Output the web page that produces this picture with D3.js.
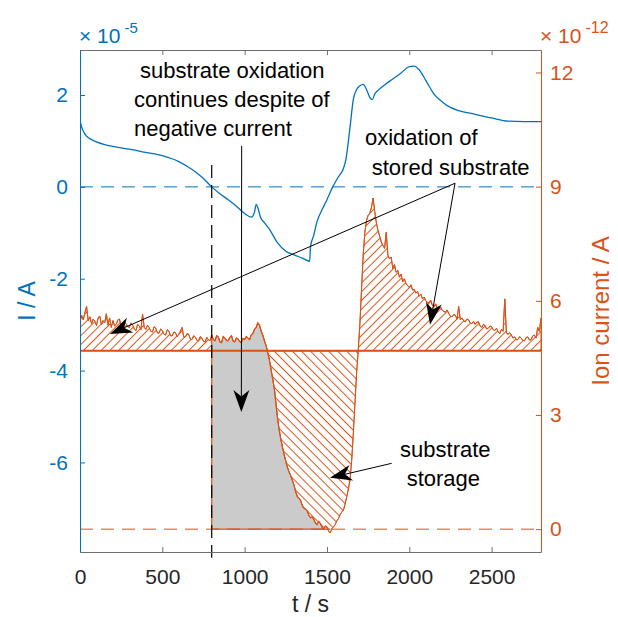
<!DOCTYPE html>
<html><head><meta charset="utf-8">
<script src="https://cdn.jsdelivr.net/npm/d3@7"></script>
<style>
body{margin:0;background:#fff}
svg{display:block}
text{font-family:"Liberation Sans",Arial,Helvetica,sans-serif}
</style>
</head><body>
<svg id="c" width="618" height="617"></svg>
<script>
// ---------- data ----------
// electrode current I (x 10^-5 A)
const currentTime = [0,10,30,60,100,150,200,300,400,500,600,650,700,750,800,850,900,950,1000,1040,1060,1070,1080,1095,1120,1150,1200,1250,1300,1350,1395,1400,1420,1440,1470,1500,1535,1570,1600,1615,1640,1660,1680,1700,1720,1740,1760,1775,1790,1810,1850,1900,1950,2000,2030,2060,2100,2150,2200,2250,2300,2400,2500,2600,2700,2800];
const currentValue = [1.45,1.30,1.15,1.05,0.98,0.92,0.88,0.82,0.75,0.68,0.55,0.45,0.33,0.18,0.00,-0.15,-0.28,-0.42,-0.58,-0.66,-0.55,-0.38,-0.45,-0.65,-0.78,-0.92,-1.22,-1.40,-1.48,-1.55,-1.62,-1.30,-1.05,-0.75,-0.50,-0.28,0.00,0.22,0.40,0.60,1.30,1.90,2.12,2.20,2.23,2.12,1.95,1.90,2.02,2.10,2.22,2.35,2.48,2.62,2.63,2.55,2.32,2.02,1.85,1.73,1.66,1.58,1.50,1.43,1.42,1.42];

// ion current (x 10^-12 A), sampled every 10 s from 0 to 2800 s
const ionStep = 10;
const ionValue = [
5.45,5.62,5.50,5.70,5.85,5.48,5.58,5.40,5.52,5.46,
5.35,5.55,5.60,5.38,5.48,5.42,5.66,5.36,5.55,5.30,
5.48,5.34,5.38,5.50,5.52,5.30,5.28,5.44,5.40,5.32,
5.30,5.42,5.36,5.26,5.22,5.38,5.34,5.24,5.65,5.30,
5.25,5.36,5.30,5.20,5.18,5.32,5.28,5.16,5.15,5.26,
5.22,5.12,5.10,5.24,5.20,5.08,5.08,5.18,5.16,5.06,
5.12,5.20,5.30,5.05,5.05,5.14,5.12,5.00,4.98,5.08,
5.05,4.96,4.95,5.06,5.02,4.94,4.92,5.04,4.98,4.95,
5.10,4.98,4.95,5.08,5.05,4.92,4.90,5.06,5.02,4.96,
4.95,5.04,5.08,4.94,4.92,5.02,5.00,4.93,4.90,5.01,
4.98,5.06,5.02,4.98,5.10,5.14,5.25,5.30,5.42,5.36,
5.20,5.10,4.95,4.82,4.65,4.45,4.20,3.95,3.70,3.30,
2.90,2.60,2.35,2.15,1.95,1.78,1.62,1.50,1.40,1.28,
1.15,0.98,0.85,0.82,0.75,0.62,0.55,0.52,0.48,0.36,
0.30,0.32,0.25,0.16,0.12,0.20,0.15,0.05,0.00,0.08,
0.05,-0.05,-0.10,0.02,0.06,0.12,0.22,0.28,0.38,0.45,
0.50,0.65,0.85,1.05,1.30,1.80,2.50,3.30,4.10,4.70,
5.40,6.30,7.20,7.80,8.10,8.25,8.30,8.45,8.70,8.35,
8.05,7.85,7.70,7.55,7.45,7.38,7.80,7.20,7.10,7.15,
6.85,6.95,6.75,6.80,6.62,6.70,6.50,6.58,6.45,6.40,
6.35,6.42,6.28,6.30,6.20,6.25,6.12,6.18,6.05,6.10,
6.00,5.96,5.95,6.02,5.88,5.85,5.92,5.80,5.78,5.84,
5.75,5.72,5.70,5.76,5.66,5.60,5.58,5.64,5.62,5.52,
5.85,5.50,5.55,5.48,5.45,5.52,5.50,5.42,5.40,5.46,
5.38,5.44,5.45,5.34,5.30,5.38,5.35,5.26,5.28,5.34,
5.32,5.24,5.22,5.28,5.18,5.14,5.25,5.20,6.05,5.15,
5.12,5.16,5.10,5.02,5.05,4.98,4.98,5.06,5.02,4.96,
4.95,5.04,5.05,4.97,4.98,5.08,5.10,5.02,5.30,5.20,
5.55];

const ionBaseline = 4.69;      // background ion current level
const storageStart = 800;      // start of the grey region (s)
const storageEnd = 1520;       // end of grey region (s)

const xTicks = [0,500,1000,1500,2000,2500];
const leftTicks = [-6,-4,-2,0,2];
const rightTicks = [0,3,6,9,12];

// annotations in data coordinates (t, ion current)
const annoTexts = [
  {t:364, v:11.85, s:"substrate oxidation"},
  {t:328, v:11.09, s:"continues despite of"},
  {t:328, v:10.33, s:"negative current"},
  {t:1731, v:10.09, s:"oxidation of"},
  {t:1772, v:9.31, s:"stored substrate"},
  {t:1944, v:1.90, s:"substrate"},
  {t:1984, v:1.14, s:"storage"}
];
const annoArrows = [
  {from:[982,10.07], to:[980,3.08]},
  {from:[2278,9.09], to:[182,5.13]},
  {from:[2278,9.09], to:[2126,5.37]},
  {from:[1893,1.73], to:[1518,1.35]}
];

// ---------- setup ----------
const blue = "#0072BD", orange = "#D95319", grey = "#262626";
const m = {l:80, r:541, t:50, b:552};
const svg = d3.select("#c");
const x = d3.scaleLinear().domain([0,2800]).range([m.l,m.r]);
const yL = d3.scaleLinear().domain([-7.95,2.98]).range([m.b,m.t]);
const yR = d3.scaleLinear().domain([-0.6,12.59]).range([m.b,m.t]);

const defs = svg.append("defs");
defs.append("clipPath").attr("id","plot").append("rect")
  .attr("x",m.l).attr("y",m.t).attr("width",m.r-m.l).attr("height",m.b-m.t);
function hatch(id, angle, gap){
  const p = defs.append("pattern").attr("id",id).attr("patternUnits","userSpaceOnUse")
    .attr("width",gap).attr("height",gap).attr("patternTransform",`rotate(${angle})`);
  p.append("line").attr("x1",gap/2).attr("x2",gap/2).attr("y1",-1).attr("y2",gap+1)
    .attr("stroke",orange).attr("stroke-width",1);
}
hatch("hatchUp", 45, 6.2);
hatch("hatchDown", -45, 6.4);

const ion = ionValue.map((v,i)=>({t:i*ionStep, v}));
const cur = currentTime.map((t,i)=>({t, v:currentValue[i]}));

const g = svg.append("g").attr("clip-path","url(#plot)");

// hatched area above baseline
g.append("path").datum(ion)
  .attr("d", d3.area().x(d=>x(d.t)).y0(yR(ionBaseline)).y1(d=>yR(Math.max(d.v,ionBaseline))))
  .attr("fill","url(#hatchUp)").attr("stroke",orange).attr("stroke-width",1);

// hatched area below baseline (storage)
g.append("path").datum(ion.filter(d=>d.t>=1130 && d.t<=1710))
  .attr("d", d3.area().x(d=>x(d.t)).y0(yR(ionBaseline)).y1(d=>yR(Math.min(d.v,ionBaseline))))
  .attr("fill","url(#hatchDown)").attr("stroke",orange).attr("stroke-width",1);

// grey region
g.append("path").datum(ion.filter(d=>d.t>=storageStart && d.t<=storageEnd))
  .attr("d", d3.area().x(d=>x(d.t)).y0(yR(0)).y1(d=>yR(Math.max(d.v,0))))
  .attr("fill","#cbcbcb").attr("stroke",orange).attr("stroke-width",1.2);

// baseline and zero line
g.append("line").attr("x1",x(0)).attr("x2",x(2800)).attr("y1",yR(ionBaseline)).attr("y2",yR(ionBaseline))
  .attr("stroke",orange).attr("stroke-width",2);
g.append("line").attr("x1",x(0)).attr("x2",x(2800)).attr("y1",yR(0)).attr("y2",yR(0))
  .attr("stroke",orange).attr("stroke-width",1).attr("stroke-dasharray","13,8");

// ion current curve
g.append("path").datum(ion)
  .attr("d", d3.line().x(d=>x(d.t)).y(d=>yR(d.v)))
  .attr("fill","none").attr("stroke",orange).attr("stroke-width",1);

// blue zero line and current curve
g.append("line").attr("x1",x(0)).attr("x2",x(2800)).attr("y1",yL(0)).attr("y2",yL(0))
  .attr("stroke",blue).attr("stroke-width",1).attr("stroke-dasharray","13,8");
g.append("path").datum(cur)
  .attr("d", d3.line().curve(d3.curveMonotoneX).x(d=>x(d.t)).y(d=>yL(d.v)))
  .attr("fill","none").attr("stroke",blue).attr("stroke-width",1.3);

// black dashed vertical at t=800
svg.append("line").attr("x1",x(storageStart)).attr("x2",x(storageStart))
  .attr("y1",yR(9.57)).attr("y2",yR(-0.75))
  .attr("stroke","#000").attr("stroke-width",1.2).attr("stroke-dasharray","13,7");

// ---------- axes ----------
function styleAxis(sel, col, textCol){
  sel.attr("font-family","'Liberation Sans',Arial,sans-serif").attr("font-size",21);
  sel.select(".domain").attr("stroke",col).attr("stroke-width",1);
  sel.selectAll(".tick line").attr("stroke",col);
  sel.selectAll(".tick text").attr("fill",textCol);
}
svg.append("g").attr("transform",`translate(0,${m.b})`)
  .call(d3.axisBottom(x).tickValues(xTicks).tickSizeInner(-5).tickSizeOuter(0).tickPadding(17).tickFormat(d=>String(d)))
  .call(s=>styleAxis(s,"#6e6e6e",grey));
svg.append("g").attr("transform",`translate(0,${m.t})`)
  .call(d3.axisTop(x).tickValues(xTicks).tickSizeInner(-5).tickSizeOuter(0).tickFormat(""))
  .call(s=>styleAxis(s,"#6e6e6e",grey));
svg.append("g").attr("transform",`translate(${m.l},0)`)
  .call(d3.axisLeft(yL).tickValues(leftTicks).tickSizeInner(-5).tickSizeOuter(0).tickPadding(12).tickFormat(d=>String(d)))
  .call(s=>styleAxis(s,blue,blue));
svg.append("g").attr("transform",`translate(${m.r},0)`)
  .call(d3.axisRight(yR).tickValues(rightTicks).tickSizeInner(-5).tickSizeOuter(0).tickPadding(9).tickFormat(d=>String(d)))
  .call(s=>styleAxis(s,orange,orange));

// exponents
const e1 = svg.append("text").attr("x",79).attr("y",43).attr("font-size",21).attr("fill",blue);
e1.append("tspan").text("\u00d7 10");
e1.append("tspan").attr("dx",4).attr("dy",-10).attr("font-size",15).text("-5");
const e2 = svg.append("text").attr("x",540).attr("y",43).attr("font-size",21).attr("fill",orange);
e2.append("tspan").text("\u00d7 10");
e2.append("tspan").attr("dx",4).attr("dy",-10).attr("font-size",16).text("-12");

// axis labels
svg.append("text").attr("x",(m.l+m.r)/2).attr("y",612).attr("text-anchor","middle")
  .attr("font-size",23).attr("fill",grey).text("t / s");
svg.append("text").attr("transform",`translate(35,${(m.t+m.b)/2}) rotate(-90)`).attr("text-anchor","middle")
  .attr("font-size",23).attr("fill",blue).text("I / A");
svg.append("text").attr("transform",`translate(609,311) rotate(-90)`).attr("text-anchor","middle")
  .attr("font-size",24).attr("fill",orange).text("Ion current / A");

// ---------- annotations ----------
const ag = svg.append("g");
annoTexts.forEach(a=>{
  ag.append("text").attr("x",x(a.t)).attr("y",yR(a.v)).attr("font-size",22).attr("fill","#000").text(a.s);
});
const L = 22, Wd = 16;
annoArrows.forEach(a=>{
  const x0=x(a.from[0]), y0=yR(a.from[1]), x1=x(a.to[0]), y1=yR(a.to[1]);
  const ang = Math.atan2(y1-y0, x1-x0);
  const c=Math.cos(ang), s=Math.sin(ang);
  const P=(u,w)=>[x1 + u*c - w*s, y1 + u*s + w*c];
  const notch = P(-0.7*L,0);
  ag.append("line").attr("x1",x0).attr("y1",y0).attr("x2",notch[0]).attr("y2",notch[1])
    .attr("stroke","#000").attr("stroke-width",1);
  const pts=[P(0,0),P(-L,-Wd/2),notch,P(-L,Wd/2)];
  ag.append("path").attr("d","M"+pts.map(p=>p.join(",")).join("L")+"Z").attr("fill","#000");
});
</script>
</body></html>
